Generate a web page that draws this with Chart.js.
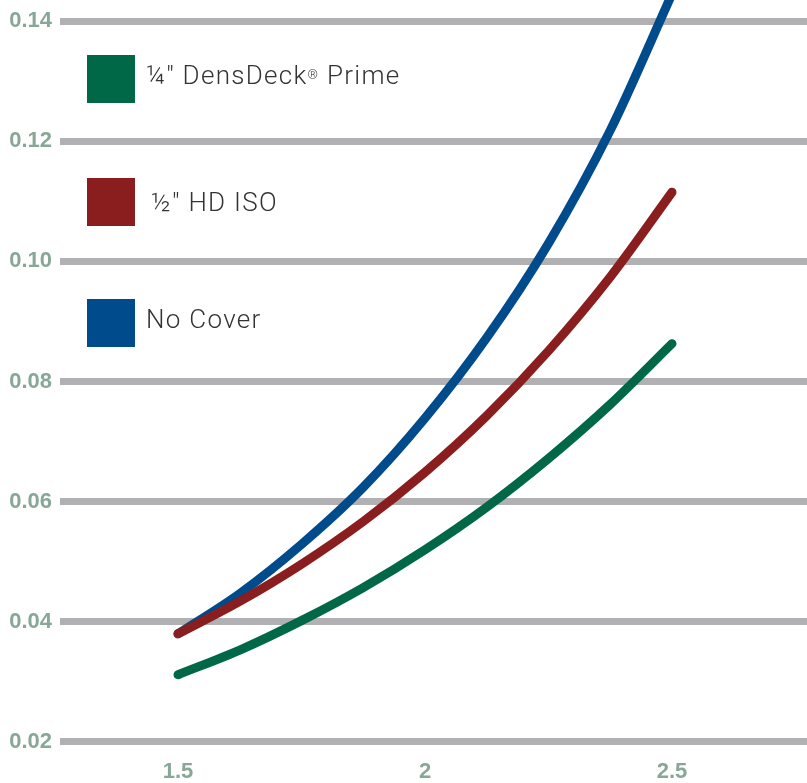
<!DOCTYPE html>
<html>
<head>
<meta charset="utf-8">
<script src="https://cdn.jsdelivr.net/npm/chart.js@4.4.1/dist/chart.umd.min.js"></script>
<style>
  html, body { margin: 0; padding: 0; background: #ffffff; }
  #wrap { position: relative; width: 807px; height: 783px; overflow: hidden; }
  #c { position: absolute; left: 0; top: 0; }
  .lg-box { position: absolute; width: 48px; height: 48px; }
  .lg-text { position: absolute; font-family: Roboto, "Liberation Sans", sans-serif; font-weight: 300;
             font-size: 26px; line-height: 30px; letter-spacing: 1.3px; color: #333333; white-space: nowrap; }
  .lg-text sup { font-size: 0.5em; position: relative; top: -0.35em; vertical-align: baseline; }
</style>
</head>
<body>
<div id="wrap">
  <canvas id="c" width="807" height="783"></canvas>
</div>
<script>
// ---- data ----
const xValues = [1.5, 1.625, 1.75, 1.875, 2.0, 2.125, 2.25, 2.375, 2.5];
const densDeckValues = [0.0312, 0.0353, 0.0402, 0.0457, 0.0520, 0.0591, 0.0672, 0.0762, 0.0863];
const hdIsoValues    = [0.0380, 0.0434, 0.0496, 0.0567, 0.0649, 0.0743, 0.0851, 0.0974, 0.1115];
const noCoverValues  = [0.0380, 0.0447, 0.0529, 0.0624, 0.0739, 0.0873, 0.1030, 0.1218, 0.1445];
const seriesLabels = ['\u00BC\u2033 DensDeck\u00AE Prime', '\u00BD\u2033 HD ISO', 'No Cover'];
const yTickValues = [0.02, 0.04, 0.06, 0.08, 0.10, 0.12, 0.14];
const xTickValues = [1.5, 2, 2.5];

const colors = ['#006847', '#8a1d1d', '#004b8b'];
const seriesValues = [densDeckValues, hdIsoValues, noCoverValues];

function toPoints(vals) { return xValues.map((x, i) => ({ x: x, y: vals[i] })); }

const datasets = seriesValues.map((vals, i) => ({
  label: seriesLabels[i],
  data: toPoints(vals),
  borderColor: colors[i],
  backgroundColor: colors[i],
  borderWidth: 9,
  borderCapStyle: 'round',
  borderJoinStyle: 'round',
  pointRadius: 0,
  cubicInterpolationMode: 'monotone',
  fill: false
}));

const tickColor = '#87a797';
const tickFont = { family: '"Liberation Sans", Arial, sans-serif', size: 22, weight: 'bold' };

const chart = new Chart(document.getElementById('c'), {
  type: 'line',
  data: { datasets: datasets },
  options: {
    responsive: false,
    animation: false,
    devicePixelRatio: 1,
    layout: { padding: 0 },
    plugins: { legend: { display: false }, tooltip: { enabled: false } },
    scales: {
      x: {
        type: 'linear',
        min: 1.2611,
        max: 2.7733,
        grid: { display: false, drawTicks: false },
        border: { display: false },
        afterBuildTicks: (axis) => { axis.ticks = xTickValues.map(v => ({ value: v })); },
        afterFit: (axis) => { axis.height = 37; axis.paddingLeft = 0; axis.paddingRight = 0; },
        ticks: {
          color: tickColor,
          font: tickFont,
          padding: 13,
          maxRotation: 0,
          callback: (v) => String(v)
        }
      },
      y: {
        type: 'linear',
        min: 0.019334,
        max: 0.1435,
        grid: { color: '#b1b1b3', lineWidth: 7, drawTicks: false },
        border: { display: false },
        afterBuildTicks: (axis) => { axis.ticks = yTickValues.map(v => ({ value: v })); },
        afterFit: (axis) => { axis.width = 60; axis.paddingTop = 0; axis.paddingBottom = 0; },
        ticks: {
          color: tickColor,
          font: tickFont,
          padding: 8,
          callback: (v) => v.toFixed(2)
        }
      }
    }
  }
});

// ---- HTML legend built from the chart's datasets ----
const wrap = document.getElementById('wrap');
const boxTops = [55, 178, 299];
const textTops = [60, 187, 304];
const textLefts = [146, 151, 146];
chart.data.datasets.forEach((ds, i) => {
  const box = document.createElement('div');
  box.className = 'lg-box';
  box.style.left = '87px';
  box.style.top = boxTops[i] + 'px';
  box.style.background = ds.borderColor;
  wrap.appendChild(box);
  const t = document.createElement('div');
  t.className = 'lg-text';
  t.style.left = textLefts[i] + 'px';
  t.style.top = textTops[i] + 'px';
  t.innerHTML = ds.label.replace('\u00AE', '<sup>\u00AE</sup>');
  wrap.appendChild(t);
});
</script>
</body>
</html>
